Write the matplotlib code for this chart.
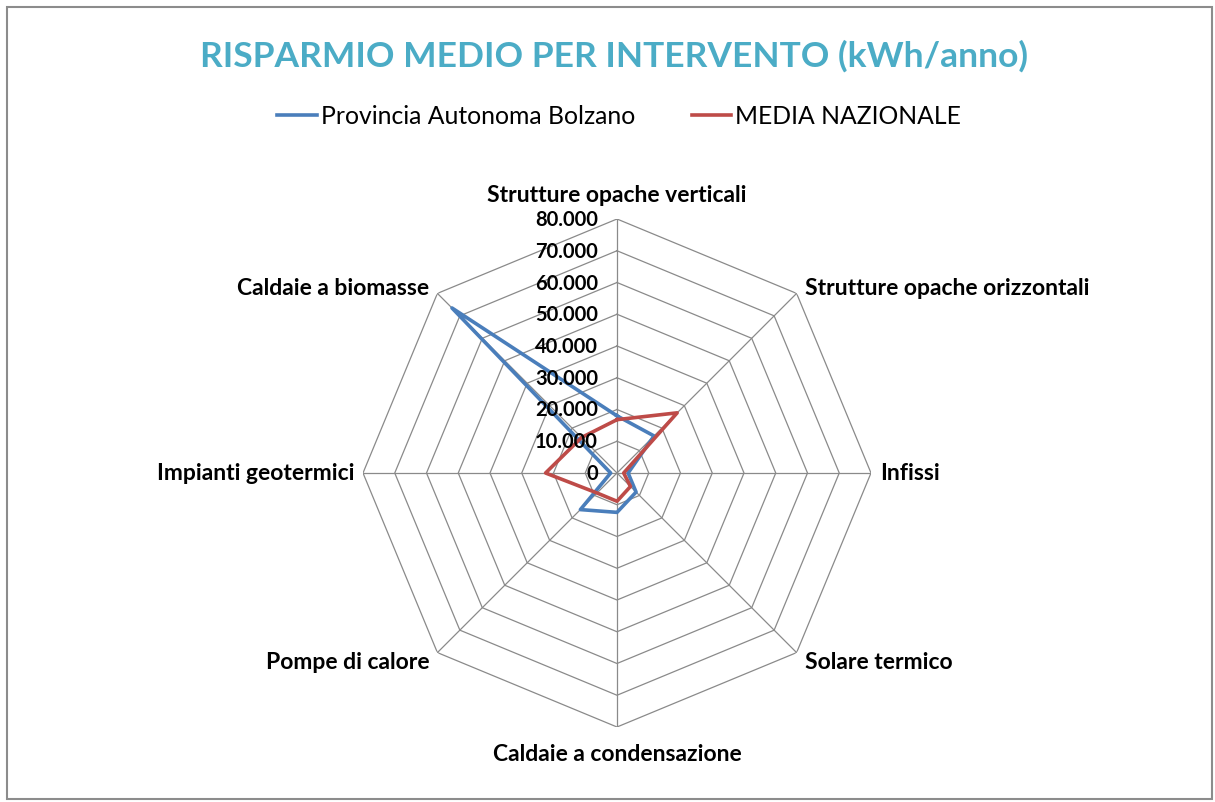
import numpy as np
import matplotlib
matplotlib.use("Agg")
import matplotlib.pyplot as plt
from matplotlib.patches import Rectangle
from matplotlib.transforms import offset_copy

categorie = ["Strutture opache verticali", "Strutture opache orizzontali", "Infissi",
             "Solare termico", "Caldaie a condensazione", "Pompe di calore",
             "Impianti geotermici", "Caldaie a biomasse"]
bolzano = [18000, 16500, 3500, 8500, 12400, 16300, 2000, 73500]
nazionale = [16800, 26800, 2100, 6000, 8900, 8900, 22500, 15800]
anelli = [0, 10000, 20000, 30000, 40000, 50000, 60000, 70000, 80000]
etichette_anelli = ["0", "10.000", "20.000", "30.000", "40.000", "50.000", "60.000", "70.000", "80.000"]

plt.rcParams['font.family'] = ['Lato', 'DejaVu Sans']

W, H = 1215, 803
fig = plt.figure(figsize=(W / 100, H / 100), dpi=100)

# bordo del grafico
fig.patches.append(Rectangle((7 / W, 3 / H), 1205 / W, 792 / H, transform=fig.transFigure,
                             fill=False, edgecolor='#8c8c8c', linewidth=1.5))

cx, cy, R = 617, 474, 254
ax = fig.add_axes([(cx - R) / W, (H - cy - R) / H, 2 * R / W, 2 * R / H], projection='polar')
ax.set_theta_zero_location('N')
ax.set_theta_direction(-1)
ax.set_ylim(0, 80000)
ax.grid(False)
ax.spines['polar'].set_visible(False)
ax.set_xticks([])
ax.set_yticks([])
ax.patch.set_alpha(0)

n = len(categorie)
theta = np.arange(n) * 2 * np.pi / n
theta_c = np.append(theta, theta[0])

grid_col = '#8a8a8a'
for r in anelli[1:]:
    ax.plot(theta_c, [r] * (n + 1), color=grid_col, lw=0.9, zorder=1)
for t in theta:
    ax.plot([t, t], [0, 80000], color=grid_col, lw=0.9, zorder=1)

ax.plot(theta_c, bolzano + bolzano[:1], color='#4a7ebb', lw=2.6, zorder=3,
        label='Provincia Autonoma Bolzano')
ax.plot(theta_c, nazionale + nazionale[:1], color='#be4b48', lw=2.6, zorder=3,
        label='MEDIA NAZIONALE')

# etichette anelli
tr = offset_copy(ax.transData, fig=fig, x=-19, y=0, units='dots')
for r, lab in zip(anelli, etichette_anelli):
    ax.text(0, r, lab, transform=tr, ha='right', va='center', fontsize=14.5,
            fontweight='bold', zorder=4)

# etichette categorie
pos = [(0, 25, 'center'), (8, 6, 'left'), (9, 0, 'left'), (8, -9, 'left'),
       (0, -27, 'center'), (-8, -9, 'right'), (-9, 0, 'right'), (-8, 6, 'right')]
for t, lab, (dx, dy, ha) in zip(theta, categorie, pos):
    trc = offset_copy(ax.transData, fig=fig, x=dx, y=dy, units='dots')
    ax.text(t, 80000, lab, transform=trc, ha=ha, va='center', fontsize=16.5,
            fontweight='bold')

fig.text(614 / W, 1 - 56 / H, 'RISPARMIO MEDIO PER INTERVENTO (kWh/anno)', ha='center',
         va='center', fontsize=25.5, fontweight='bold', color='#4bacc6')

fig.legend(loc='center', bbox_to_anchor=(619 / W, 1 - 117 / H), ncol=2, frameon=False,
           fontsize=17.8, handlelength=1.6, handletextpad=0.15, columnspacing=2.3)

fig.savefig('out.png', dpi=100)
